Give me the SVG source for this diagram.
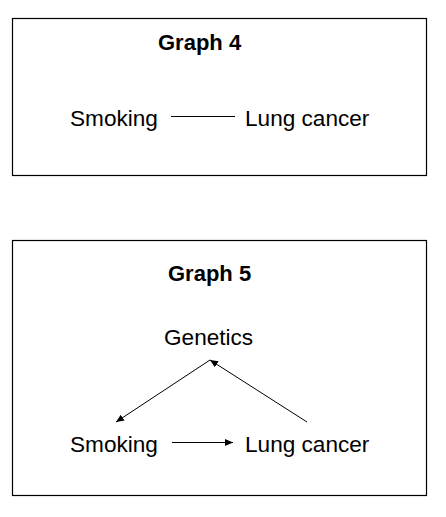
<svg xmlns="http://www.w3.org/2000/svg" width="446" height="517" viewBox="0 0 446 517">
<style>
.box{fill:#fff;stroke:#000;stroke-width:1.2}
.t{font-family:"Liberation Sans",Arial,sans-serif;font-size:22.6px;fill:#000}
.b{font-weight:bold;font-size:22px}
.c{stroke:#000;stroke-width:1;fill:none}
</style>
<defs>
<marker id="ah" markerUnits="userSpaceOnUse" markerWidth="9" markerHeight="8" refX="8" refY="3.5" orient="auto">
<path d="M0,0 L8,3.5 L0,7 Z" fill="#000"/>
</marker>
</defs>
<rect width="446" height="517" fill="#fff"/>
<g id="graph4">
<rect class="box" x="12.5" y="18.5" width="414" height="157"/>
<text class="t b" x="158" y="50">Graph 4</text>
</g>
<g id="g4-smoking"><text class="t" x="70" y="126">Smoking</text></g>
<g id="g4-lung"><text class="t" x="245" y="126">Lung cancer</text></g>
<g id="graph5">
<rect class="box" x="12.5" y="240.5" width="414" height="255"/>
<text class="t b" x="168" y="281">Graph 5</text>
</g>
<g id="g5-genetics"><text class="t" x="164" y="345">Genetics</text></g>
<g id="g5-smoking"><text class="t" x="70" y="452">Smoking</text></g>
<g id="g5-lung"><text class="t" x="245" y="452">Lung cancer</text></g>
<g id="connectors">
<line class="c" x1="171" y1="116.5" x2="235" y2="116.5"/>
<line class="c" x1="172" y1="442.5" x2="233" y2="442.5" marker-end="url(#ah)"/>
<line class="c" x1="210" y1="360" x2="116" y2="422" marker-end="url(#ah)"/>
<line class="c" x1="307" y1="422" x2="210" y2="360" marker-end="url(#ah)"/>
</g>
</svg>
